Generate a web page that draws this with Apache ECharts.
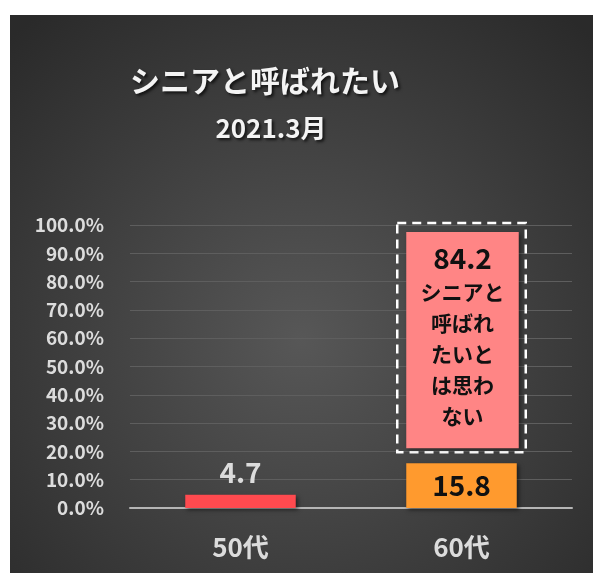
<!DOCTYPE html>
<html>
<head>
<meta charset="utf-8">
<script src="https://cdn.jsdelivr.net/npm/echarts@6/dist/echarts.min.js"></script>
<style>
  html, body { margin: 0; padding: 0; background: #fff; }
  #chart { position: absolute; left: 10px; top: 15px; width: 583px; height: 558px; }
</style>
</head>
<body>
<div id="chart"></div>
<script>
// 年代別
var categories = ['50代', '60代']
// シニアと呼ばれたい (%)
var wantValues = [4.7, 15.8]
// 呼ばれたいとは思わない (%) - 60代のみ表示
var notWantValues = [null, 84.2]
var notWantLines = ['シニアと', '呼ばれ', 'たいと', 'は思わ', 'ない']
var barColors = ['#ff4a4f', '#ff9a2e']

var font = '"Noto Sans CJK JP", "Noto Sans", sans-serif'

var notWantData = []
notWantValues.forEach(function (v, i) {
  if (v != null) notWantData.push([i, wantValues[i], v])
})

var chart = echarts.init(document.getElementById('chart'))
var option = {
  backgroundColor: {
    type: 'radial', x: 0.5, y: 0.58, r: 0.75,
    colorStops: [
      { offset: 0, color: '#575757' },
      { offset: 1, color: '#2a2a2a' }
    ]
  },
  title: [
    {
      text: 'シニアと呼ばれたい',
      left: 250, top: 46, textAlign: 'center',
      textStyle: {
        color: '#f4f4f4', fontSize: 30, fontWeight: 'bold', fontFamily: font,
        textShadowColor: 'rgba(0,0,0,0.7)', textShadowBlur: 3, textShadowOffsetX: 2, textShadowOffsetY: 2
      }
    },
    {
      text: '2021.3月',
      left: 256, top: 95, textAlign: 'center',
      textStyle: {
        color: '#f4f4f4', fontSize: 26, fontWeight: 'bold', fontFamily: font,
        textShadowColor: 'rgba(0,0,0,0.7)', textShadowBlur: 3, textShadowOffsetX: 2, textShadowOffsetY: 2
      }
    }
  ],
  grid: { left: 120, right: 21, top: 210, bottom: 65 },
  xAxis: {
    type: 'category',
    data: categories,
    axisLine: { lineStyle: { color: '#b5b5b5', width: 2 } },
    axisTick: { show: false },
    axisLabel: { color: '#dcdcdc', fontSize: 26, fontWeight: 'bold', fontFamily: font, margin: 26 }
  },
  yAxis: {
    type: 'value',
    min: 0, max: 100, interval: 10,
    axisLine: { show: false },
    axisTick: { show: false },
    splitLine: { lineStyle: { color: '#5e5e5e', width: 1 } },
    axisLabel: {
      color: '#dcdcdc', fontSize: 19, fontWeight: 'bold', fontFamily: font, margin: 26,
      formatter: function (v) { return v.toFixed(1) + '%' }
    }
  },
  series: [
    {
      type: 'bar',
      barWidth: '50%',
      data: wantValues.map(function (v, i) {
        return {
          value: v,
          itemStyle: { color: barColors[i] },
          label: i === 0
            ? { position: 'top', distance: 8, color: '#dcdcdc' }
            : { position: 'inside', color: '#111' }
        }
      }),
      itemStyle: { shadowColor: 'rgba(0,0,0,0.5)', shadowBlur: 4, shadowOffsetX: 2, shadowOffsetY: 2 },
      label: { show: true, fontSize: 28, fontWeight: 'bold', fontFamily: font }
    },
    {
      type: 'custom',
      data: notWantData,
      renderItem: function (params, api) {
        var idx = api.value(0)
        var base = api.value(1)
        var val = api.value(2)
        var p0 = api.coord([idx, base])
        var p1 = api.coord([idx, base + val])
        var bw = api.size([1, 0])[0] * 0.5
        var cx = p0[0]
        return {
          type: 'group',
          children: [
            {
              type: 'rect',
              shape: { x: cx - bw / 2 - 9, y: p1[1] - 2, width: bw + 18, height: (p0[1] - 11) - (p1[1] - 2) },
              style: { fill: null, stroke: '#ffffff', lineWidth: 2.5, lineDash: [9, 6] }
            },
            {
              type: 'rect',
              shape: { x: cx - bw / 2, y: p1[1] + 7, width: bw + 2, height: (p0[1] - 15) - (p1[1] + 7) },
              style: { fill: '#ff8585', shadowColor: 'rgba(0,0,0,0.4)', shadowBlur: 4, shadowOffsetX: 2, shadowOffsetY: 2 }
            },
            {
              type: 'text',
              x: cx + 1,
              y: p1[1] + 14,
              style: {
                text: '{v|' + val.toFixed(1) + '}\n' + notWantLines.map(function (s) { return '{t|' + s + '}' }).join('\n'),
                align: 'center',
                verticalAlign: 'top',
                fill: '#111',
                rich: {
                  v: { fontSize: 28, fontWeight: 'bold', fontFamily: font, lineHeight: 38, align: 'center' },
                  t: { fontSize: 21, fontWeight: 'bold', fontFamily: font, lineHeight: 31, align: 'center' }
                }
              }
            }
          ]
        }
      }
    }
  ]
}
chart.setOption(option)
</script>
</body>
</html>
